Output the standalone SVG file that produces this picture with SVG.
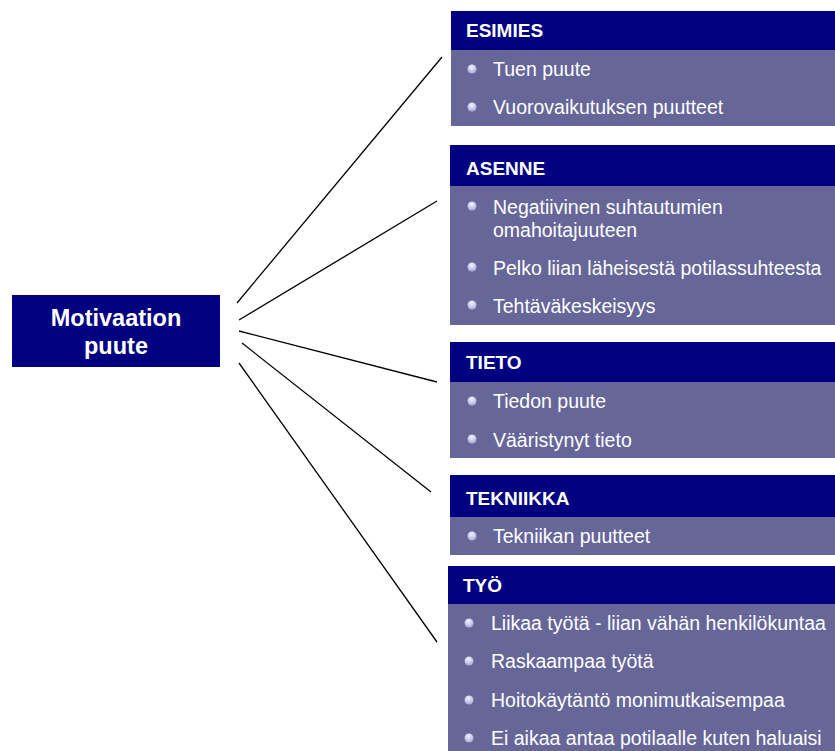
<svg xmlns="http://www.w3.org/2000/svg" width="835" height="751" viewBox="0 0 835 751">
<defs>
<radialGradient id="bul" cx="0.45" cy="0.3" r="0.75">
<stop offset="0" stop-color="#f4f4ff"/>
<stop offset="1" stop-color="#a4a4d6"/>
</radialGradient>
<style>
.hd{fill:#000080}
.bd{fill:#666699}
.ht{font-family:"Liberation Sans",Arial,sans-serif;font-weight:bold;font-size:19px;fill:#ffffff}
.it{font-family:"Liberation Sans",Arial,sans-serif;font-size:19.5px;fill:#ffffff}
.ct{font-family:"Liberation Sans",Arial,sans-serif;font-weight:bold;font-size:23.5px;fill:#ffffff}
.b{fill:url(#bul)}
.ln{stroke:#000000;stroke-width:1.3;fill:none}
</style>
</defs>
<rect width="835" height="751" fill="#ffffff"/>
<g id="connectors">
<line class="ln" x1="237" y1="303" x2="442" y2="57"/>
<line class="ln" x1="239" y1="320" x2="437" y2="201"/>
<line class="ln" x1="239" y1="331" x2="437" y2="382"/>
<line class="ln" x1="242" y1="343" x2="431" y2="492"/>
<line class="ln" x1="239" y1="363" x2="437" y2="642"/>
</g>
<g id="center">
<rect class="hd" x="12" y="295" width="208" height="72"/>
<text class="ct" x="116" y="326" text-anchor="middle">Motivaation</text>
<text class="ct" x="116" y="354" text-anchor="middle">puute</text>
</g>
<g id="esimies">
<rect class="hd" x="451" y="11" width="384" height="39"/>
<rect class="bd" x="451" y="50" width="384" height="76"/>
<text class="ht" x="466" y="37">ESIMIES</text>
<circle class="b" cx="472" cy="69" r="4.5"/>
<text class="it" x="493" y="76">Tuen puute</text>
<circle class="b" cx="472" cy="107" r="4.5"/>
<text class="it" x="493" y="114">Vuorovaikutuksen puutteet</text>
</g>
<g id="asenne">
<rect class="hd" x="450" y="145" width="385" height="41"/>
<rect class="bd" x="450" y="186" width="385" height="139"/>
<text class="ht" x="466" y="175">ASENNE</text>
<circle class="b" cx="472" cy="206" r="4.5"/>
<text class="it" x="493" y="214">Negatiivinen suhtautumien</text>
<text class="it" x="493" y="237">omahoitajuuteen</text>
<circle class="b" cx="472" cy="267" r="4.5"/>
<text class="it" x="493" y="275">Pelko liian läheisestä potilassuhteesta</text>
<circle class="b" cx="472" cy="305" r="4.5"/>
<text class="it" x="493" y="313">Tehtäväkeskeisyys</text>
</g>
<g id="tieto">
<rect class="hd" x="450" y="342" width="385" height="40"/>
<rect class="bd" x="450" y="382" width="385" height="76"/>
<text class="ht" x="466" y="369">TIETO</text>
<circle class="b" cx="472" cy="401" r="4.5"/>
<text class="it" x="493" y="408">Tiedon puute</text>
<circle class="b" cx="472" cy="439" r="4.5"/>
<text class="it" x="493" y="447">Vääristynyt tieto</text>
</g>
<g id="tekniikka">
<rect class="hd" x="450" y="475" width="385" height="42"/>
<rect class="bd" x="450" y="517" width="385" height="38"/>
<text class="ht" x="466" y="505">TEKNIIKKA</text>
<circle class="b" cx="472" cy="536" r="4.5"/>
<text class="it" x="493" y="543">Tekniikan puutteet</text>
</g>
<g id="tyo">
<rect class="hd" x="448" y="566" width="387" height="38"/>
<rect class="bd" x="448" y="604" width="387" height="147"/>
<text class="ht" x="463" y="592">TYÖ</text>
<circle class="b" cx="469" cy="623" r="4.5"/>
<text class="it" x="491" y="630">Liikaa työtä - liian vähän henkilökuntaa</text>
<circle class="b" cx="469" cy="661" r="4.5"/>
<text class="it" x="491" y="668">Raskaampaa työtä</text>
<circle class="b" cx="469" cy="700" r="4.5"/>
<text class="it" x="491" y="707">Hoitokäytäntö monimutkaisempaa</text>
<circle class="b" cx="469" cy="738" r="4.5"/>
<text class="it" x="491" y="745">Ei aikaa antaa potilaalle kuten haluaisi</text>
</g>
</svg>
